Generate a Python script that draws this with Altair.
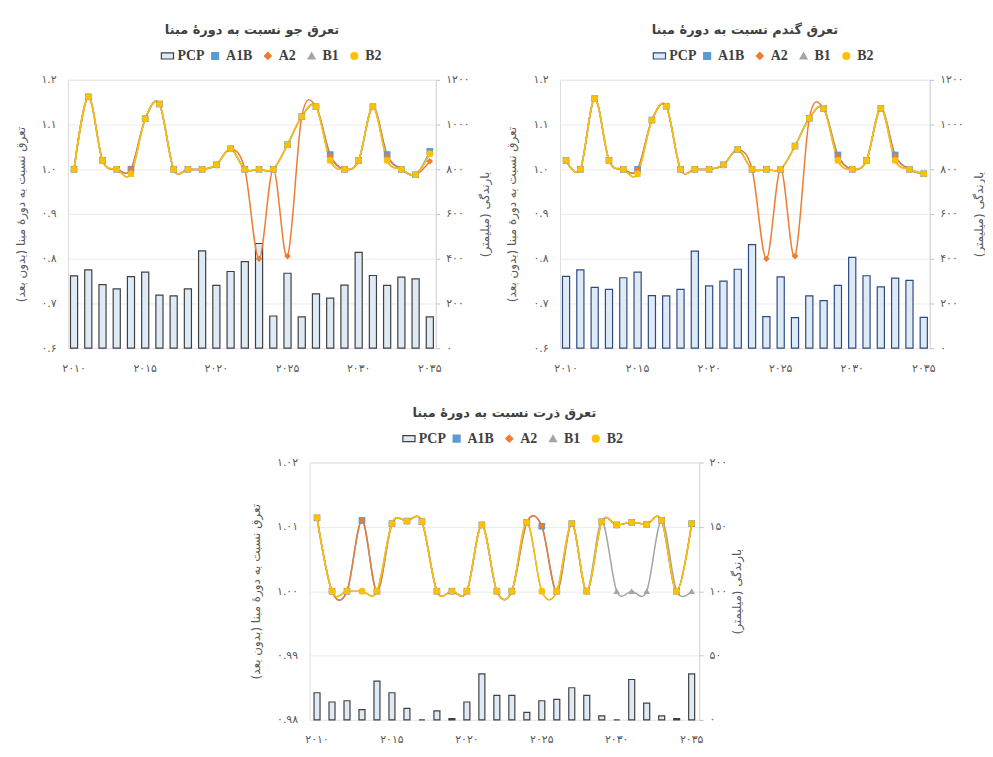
import altair as alt
import pandas as pd

# ---------------- data ----------------
years = list(range(2010, 2036))
series_names = ["A1B", "A2", "B1", "B2"]

# Barley (جو)
barley_pcp = [323, 350, 284, 265, 320, 340, 237, 234, 265, 435, 281, 343, 387,
              468, 144, 335, 140, 243, 224, 282, 428, 325, 281, 318, 310, 140]
barley_A1B = [1.0, 1.162, 1.02, 1.0, 1.0, 1.113, 1.146, 1.0, 1.0, 1.0, 1.01, 1.046, 1.0,
              1.0, 1.0, 1.055, 1.118, 1.14, 1.033, 1.0, 1.02, 1.14, 1.033, 1.0, 0.988, 1.04]
barley_A2 = [1.0, 1.162, 1.02, 1.0, 1.0, 1.113, 1.146, 1.0, 1.0, 1.0, 1.01, 1.046, 1.0,
             0.80, 1.0, 0.806, 1.118, 1.14, 1.03, 1.0, 1.02, 1.14, 1.03, 1.0, 0.988, 1.018]
barley_B1 = [1.0, 1.162, 1.02, 1.0, 0.99, 1.113, 1.146, 1.0, 1.0, 1.0, 1.01, 1.046, 1.0,
             1.0, 1.0, 1.055, 1.118, 1.14, 1.02, 1.0, 1.02, 1.14, 1.02, 1.0, 0.988, 1.035]
barley_B2 = [1.0, 1.162, 1.02, 1.0, 0.99, 1.113, 1.146, 1.0, 1.0, 1.0, 1.01, 1.046, 1.0,
             1.0, 1.0, 1.055, 1.118, 1.14, 1.02, 1.0, 1.02, 1.14, 1.02, 1.0, 0.988, 1.035]

# Wheat (گندم)
wheat_pcp = [321, 350, 272, 263, 315, 340, 235, 234, 263, 434, 279, 300, 353,
             463, 141, 319, 137, 234, 213, 281, 406, 324, 274, 313, 303, 138]
wheat_A1B = [1.02, 1.0, 1.158, 1.02, 1.0, 1.0, 1.11, 1.141, 1.0, 1.0, 1.0, 1.01, 1.044,
             1.0, 1.0, 1.0, 1.052, 1.114, 1.136, 1.032, 1.0, 1.02, 1.136, 1.032, 1.0, 0.99]
wheat_A2 = [1.02, 1.0, 1.158, 1.02, 1.0, 1.0, 1.11, 1.141, 1.0, 1.0, 1.0, 1.01, 1.044,
            1.0, 0.80, 1.0, 0.806, 1.114, 1.136, 1.03, 1.0, 1.02, 1.136, 1.03, 1.0, 0.99]
wheat_B1 = [1.02, 1.0, 1.158, 1.02, 1.0, 0.99, 1.11, 1.141, 1.0, 1.0, 1.0, 1.01, 1.044,
            1.0, 1.0, 1.0, 1.052, 1.114, 1.136, 1.02, 1.0, 1.02, 1.136, 1.02, 1.0, 0.99]
wheat_B2 = [1.02, 1.0, 1.158, 1.02, 1.0, 0.99, 1.11, 1.141, 1.0, 1.0, 1.0, 1.01, 1.044,
            1.0, 1.0, 1.0, 1.052, 1.114, 1.136, 1.02, 1.0, 1.02, 1.136, 1.02, 1.0, 0.99]

# Corn (ذرت)
corn_pcp = [21.1, 13.9, 14.9, 8.0, 30.2, 21.1, 9.0, 0, 7.0, 1.0, 13.9, 35.8, 19.1,
            19.1, 5.9, 14.9, 16.0, 25.0, 19.1, 3.1, 0, 31.4, 13.1, 3.1, 1.0, 35.8]
corn_A1B = [1.0114, 1.0, 1.0, 1.011, 1.0, 1.0105, 1.0109, 1.0108, 1.0, 1.0, 1.0, 1.0103, 1.0,
            1.0, 1.0107, 1.0101, 1.0, 1.0105, 1.0, 1.0108, 1.0103, 1.0107, 1.0104, 1.011, 1.0, 1.0105]
corn_A2 = [1.0114, 1.0, 1.0, 1.011, 1.0, 1.0105, 1.0109, 1.0108, 1.0, 1.0, 1.0, 1.0103, 1.0,
           1.0, 1.0107, 1.0101, 1.0, 1.0105, 1.0, 1.0108, 1.0103, 1.0107, 1.0104, 1.011, 1.0, 1.0105]
corn_B1 = [1.0114, 1.0, 1.0, 1.0, 1.0, 1.0105, 1.0109, 1.0108, 1.0, 1.0, 1.0, 1.0103, 1.0,
           1.0, 1.0107, 1.0, 1.0, 1.0105, 1.0, 1.0108, 1.0, 1.0, 1.0, 1.011, 1.0, 1.0]
corn_B2 = [1.0114, 1.0, 1.0, 1.0, 1.0, 1.0105, 1.0109, 1.0108, 1.0, 1.0, 1.0, 1.0103, 1.0,
           1.0, 1.0107, 1.0, 1.0, 1.0105, 1.0, 1.0108, 1.0103, 1.0107, 1.0104, 1.011, 1.0, 1.0105]

x_tick_years = [2010, 2015, 2020, 2025, 2030, 2035]
left_ticks_12 = [0.6, 0.7, 0.8, 0.9, 1.0, 1.1, 1.2]
right_ticks_12 = [0, 200, 400, 600, 800, 1000, 1200]
left_ticks_3 = [0.98, 0.99, 1.0, 1.01, 1.02]
right_ticks_3 = [0, 50, 100, 150, 200]

title_barley = "تعرق جو نسبت به دورهٔ مبنا"
title_wheat = "تعرق گندم نسبت به دورهٔ مبنا"
title_corn = "تعرق ذرت نسبت به دورهٔ مبنا"
left_title = "تعرق نسبت به دورهٔ مبنا (بدون بعد)\u200f"
right_title = "بارندگی (میلیمتر)\u200f"

series_colors = ["#5B9BD5", "#ED7D31", "#A5A5A5", "#FFC000"]
series_shapes = ["square", "diamond", "triangle-up", "circle"]

FA_DIGITS = "۰۱۲۳۴۵۶۷۸۹"
PFONT = "DejaVu Sans"
TXT = "#404040"
LBL = "#595959"


def fa_expr(fmt):
    e = f"format(datum.value, '{fmt}')"
    for i, d in enumerate(FA_DIGITS):
        e = f"replace({e}, regexp('{i}', 'g'), '{d}')"
    return e


def panel(title, pcp, svals, ydom, yticks, yfmt, rdom, rticks, bar_stroke,
          w, h, pin, pout, rpad):
    bar_df = pd.DataFrame({"year": years, "pcp": pcp, "name": ["PCP"] * len(years)})
    rows = []
    for s, vals in zip(series_names, svals):
        for yv, v in zip(years, vals):
            rows.append({"year": yv, "value": v, "series": s})
    line_df = pd.DataFrame(rows)

    x = alt.X("year:O",
              scale=alt.Scale(paddingInner=pin, paddingOuter=pout),
              axis=alt.Axis(values=x_tick_years, labelExpr=fa_expr("d"), title=None,
                            ticks=False, domain=False, labelAngle=0, labelPadding=14,
                            labelFont=PFONT, labelFontSize=11, labelColor=LBL, grid=False))

    bars = alt.Chart(bar_df).mark_bar(stroke=bar_stroke, strokeWidth=1.2).encode(
        x=x,
        y=alt.Y("pcp:Q", scale=alt.Scale(domain=rdom, nice=False),
                axis=alt.Axis(orient="right", values=rticks, labelExpr=fa_expr("d"),
                              title=right_title, titleAngle=270, titleFont=PFONT,
                              titleFontSize=12, titleFontWeight="normal", titleColor=LBL,
                              titlePadding=rpad, labelFont=PFONT, labelFontSize=11,
                              labelColor=LBL, labelPadding=6, grid=False,
                              domainColor="#D9D9D9", tickColor="#BFBFBF", tickSize=4)),
        fill=alt.Fill("name:N", scale=alt.Scale(domain=["PCP"], range=["#DEEBF7"]),
                      legend=alt.Legend(orient="none", legendX=93, legendY=-31,
                                        title=None,
                                        symbolType="M-1,-0.5H1V0.5H-1Z", symbolSize=150,
                                        symbolStrokeColor=bar_stroke, symbolStrokeWidth=1.2,
                                        labelOffset=3,
                                        labelFont="Liberation Serif", labelFontSize=14,
                                        labelFontWeight="bold", labelColor=TXT))
    )

    yl = alt.Y("value:Q", scale=alt.Scale(domain=ydom, nice=False, zero=False),
               axis=alt.Axis(orient="left", values=yticks, labelExpr=fa_expr(yfmt),
                             title=left_title, titleFont=PFONT, titleFontSize=12,
                             titleFontWeight="normal", titleColor=LBL, titlePadding=14,
                             labelFont=PFONT, labelFontSize=11, labelColor=LBL,
                             labelPadding=12, ticks=False, domain=False,
                             grid=True, gridColor="#EBEBEB"))
    leg = alt.Legend(orient="none", legendX=141, legendY=-31, title=None,
                     direction="horizontal",
                     labelFont="Liberation Serif", labelFontSize=14,
                     labelFontWeight="bold", labelColor=TXT,
                     symbolSize=45, columnPadding=8)
    col = alt.Color("series:N", scale=alt.Scale(domain=series_names, range=series_colors),
                    legend=leg)
    lines = alt.Chart(line_df).mark_line(interpolate="cardinal", strokeWidth=1.5).encode(
        x=x, y=yl, color=col)
    points = alt.Chart(line_df).mark_point(filled=True, size=45, opacity=1).encode(
        x=x, y=yl, color=col,
        shape=alt.Shape("series:N", scale=alt.Scale(domain=series_names, range=series_shapes),
                        legend=leg))

    return alt.layer(bars, alt.layer(lines, points)).resolve_scale(
        y="independent", fill="independent", color="independent", shape="independent"
    ).properties(
        width=w, height=h,
        title=alt.Title(title, font=PFONT, fontSize=13, fontWeight="bold", color=TXT,
                        anchor="middle", offset=12))


p1 = panel(title_barley, barley_pcp, [barley_A1B, barley_A2, barley_B1, barley_B2],
           [0.6, 1.2], left_ticks_12, ".1f", [0, 1200], right_ticks_12, "#404040",
           370, 270, 0.5, 0.17, 22)
p2 = panel(title_wheat, wheat_pcp, [wheat_A1B, wheat_A2, wheat_B1, wheat_B2],
           [0.6, 1.2], left_ticks_12, ".1f", [0, 1200], right_ticks_12, "#2F4A80",
           372, 270, 0.5, 0.17, 22)
p3 = panel(title_corn, corn_pcp, [corn_A1B, corn_A2, corn_B1, corn_B2],
           [0.98, 1.02], left_ticks_3, ".2f", [0, 200], right_ticks_3, "#404040",
           392, 259, 0.6, 0.3, 17)

chart = alt.vconcat(alt.hconcat(p1, p2, spacing=14), p3, spacing=32, center=True).properties(
    padding={"left": 5, "top": 13, "right": 0, "bottom": 0}
).configure_view(stroke="#E3E3E3").configure(background="white")

chart.save("out.html", embed_options={"renderer": "svg", "actions": False})
